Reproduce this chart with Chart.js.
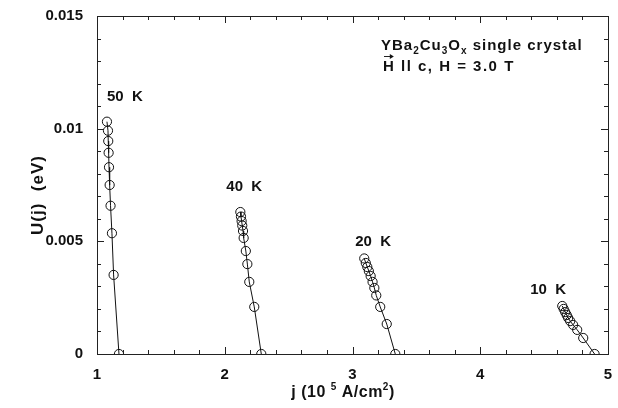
<!DOCTYPE html>
<html><head><meta charset="utf-8">
<script src="https://cdn.jsdelivr.net/npm/chart.js@4.4.1/dist/chart.umd.min.js"></script>
<style>html,body{margin:0;padding:0;background:#fff}#wrap{width:618px;height:408px}</style>
</head><body><div id="wrap"><canvas id="c" width="618" height="408"></canvas></div>
<script>
// Data: current density j (10^5 A/cm^2) and U(j) (eV)
const j50 = [1.078, 1.086, 1.088, 1.091, 1.094, 1.099, 1.106, 1.117, 1.130, 1.172];
const U50 = [0.01031, 0.00991, 0.00945, 0.00893, 0.00829, 0.00750, 0.00658, 0.00536, 0.00351, 0];
const j40 = [2.122, 2.127, 2.132, 2.137, 2.143, 2.148, 2.165, 2.177, 2.192, 2.231, 2.286];
const U40 = [0.00630, 0.00610, 0.00590, 0.00570, 0.00546, 0.00515, 0.00457, 0.00399, 0.00320, 0.00209, 0];
const j20 = [3.092, 3.104, 3.116, 3.128, 3.142, 3.157, 3.171, 3.186, 3.217, 3.268, 3.335];
const U20 = [0.00424, 0.00404, 0.00386, 0.00368, 0.00346, 0.00320, 0.00293, 0.00260, 0.00209, 0.00133, 0];
const j10 = [4.642, 4.653, 4.665, 4.677, 4.688, 4.704, 4.727, 4.759, 4.806, 4.895];
const U10 = [0.00213, 0.00200, 0.00186, 0.00173, 0.00160, 0.00146, 0.00129, 0.00107, 0.00071, 0];
const seriesLabels = ['50  K', '40  K', '20  K', '10  K'];
const xTickLabels = ['1', '2', '3', '4', '5'];
const yTickLabels = ['0', '0.005', '0.01', '0.015'];

const FONT = '"Liberation Sans", Arial, Helvetica, sans-serif';
const toPts = (xs, ys) => xs.map((x, i) => ({x, y: ys[i]}));
const mk = (xs, ys, label) => ({
  label, data: toPts(xs, ys), showLine: true, borderColor: '#111', borderWidth: 1,
  pointRadius: 4.6, pointBorderWidth: 1, pointBackgroundColor: 'rgba(0,0,0,0)', pointBorderColor: '#111', tension: 0
});

const framePlugin = {
  id: 'frame',
  afterDraw(chart) {
    const {ctx, chartArea: a, scales: {x, y}} = chart;
    ctx.save();
    ctx.strokeStyle = '#222'; ctx.lineWidth = 1;
    ctx.strokeRect(a.left + 0.5, a.top + 0.5, a.right - a.left, a.bottom - a.top);
    ctx.beginPath();
    for (let v = 1; v <= 5.0001; v += 0.2) {
      const px = Math.round(x.getPixelForValue(v)) + 0.5;
      const major = Math.abs(v - Math.round(v)) < 1e-6;
      const L = major ? 7 : 4;
      ctx.moveTo(px, a.top); ctx.lineTo(px, a.top + L);
      ctx.moveTo(px, a.bottom); ctx.lineTo(px, a.bottom - L);
    }
    for (let k = 0; k <= 15; k++) {
      const v = k * 0.001;
      const py = Math.round(y.getPixelForValue(v)) + 0.5;
      const L = (k % 5 === 0) ? 7 : 4;
      ctx.moveTo(a.left, py); ctx.lineTo(a.left + L, py);
      ctx.moveTo(a.right, py); ctx.lineTo(a.right - L, py);
    }
    ctx.stroke();

    ctx.fillStyle = '#111';
    ctx.textBaseline = 'middle';
    ctx.textAlign = 'left';
    ctx.font = 'bold 15px ' + FONT;
    ctx.letterSpacing = '0px';
    const lbl = [[j50, U50], [j40, U40], [j20, U20], [j10, U10]];
    const offs = [[0, -25], [-14, -25], [-9, -17], [-32, -16]];
    lbl.forEach((s, i) => {
      const px = x.getPixelForValue(s[0][0]) + offs[i][0];
      const py = y.getPixelForValue(s[1][0]) + offs[i][1];
      ctx.fillText(seriesLabels[i], px, py);
    });

    // sample annotation
    ctx.letterSpacing = '1px';
    let cx = 381; const cy = 46;
    const big = 'bold 15px ' + FONT, small = 'bold 10px ' + FONT;
    const parts = [['YBa', 0], ['2', 1], ['Cu', 0], ['3', 1], ['O', 0], ['x', 1], [' single crystal', 0]];
    parts.forEach(([t, sub]) => {
      ctx.font = sub ? small : big;
      ctx.fillText(t, cx, sub ? cy + 5 : cy);
      cx += ctx.measureText(t).width;
    });
    ctx.font = big;
    ctx.letterSpacing = '1.5px';
    const hx = 383, hy = 67;
    ctx.fillText('H ll c, H = 3.0 T', hx, hy);
    ctx.letterSpacing = '0px';
    const hw = ctx.measureText('H').width;
    ctx.beginPath();
    ctx.moveTo(hx + 1, hy - 10.5); ctx.lineTo(hx + hw - 1, hy - 10.5);
    ctx.stroke();
    ctx.beginPath();
    ctx.moveTo(hx + hw, hy - 10.5); ctx.lineTo(hx + hw - 4, hy - 13); ctx.lineTo(hx + hw - 4, hy - 8); ctx.closePath();
    ctx.fill();

    // x-axis title with superscripts
    ctx.letterSpacing = '0.5px';
    const tparts = [['j (10 ', 0], ['5', 1], [' A/cm', 0], ['2', 1], [')', 0]];
    const ty = 393;
    let tw = 0;
    const tf = sup => sup ? 'bold 10px ' + FONT : 'bold 16px ' + FONT;
    tparts.forEach(([t, sup]) => { ctx.font = tf(sup); tw += ctx.measureText(t).width; });
    let tx = 343 - tw / 2;
    tparts.forEach(([t, sup]) => {
      ctx.font = tf(sup);
      ctx.fillText(t, tx, sup ? ty - 6 : ty);
      tx += ctx.measureText(t).width;
    });

    // y-axis title
    ctx.save();
    ctx.translate(38, 195);
    ctx.rotate(-Math.PI / 2);
    ctx.textAlign = 'center';
    ctx.font = 'bold 17px ' + FONT;
    ctx.letterSpacing = '1px';
    ctx.fillText('U(j)  (eV)', 0, 0);
    ctx.restore();
    ctx.restore();
  }
};

new Chart(document.getElementById('c'), {
  type: 'scatter',
  data: { datasets: [mk(j50, U50, seriesLabels[0]), mk(j40, U40, seriesLabels[1]), mk(j20, U20, seriesLabels[2]), mk(j10, U10, seriesLabels[3])] },
  options: {
    responsive: false, animation: false, devicePixelRatio: 1,
    layout: { padding: { left: 0, right: 10, top: 16, bottom: 0 } },
    plugins: { legend: { display: false }, tooltip: { enabled: false } },
    scales: {
      x: {
        type: 'linear', min: 1, max: 5,
        afterFit: s => { s.height = 54; s.paddingLeft = 0; s.paddingRight = 0; },
        afterBuildTicks: s => { s.ticks = xTickLabels.map(t => ({value: parseFloat(t)})); },
        ticks: { callback: (v, i) => xTickLabels[i], color: '#111', font: { family: FONT, size: 15, weight: 'bold' }, padding: 12, maxRotation: 0 },
        grid: { display: false, drawTicks: false }, border: { display: false }
      },
      y: {
        type: 'linear', min: 0, max: 0.015,
        afterFit: s => { s.width = 97; s.paddingTop = 0; s.paddingBottom = 0; },
        afterBuildTicks: s => { s.ticks = yTickLabels.map(t => ({value: parseFloat(t)})); },
        ticks: { callback: (v, i) => yTickLabels[i], color: '#111', font: { family: FONT, size: 15, weight: 'bold' }, padding: 14 },
        grid: { display: false, drawTicks: false }, border: { display: false }
      }
    }
  },
  plugins: [framePlugin]
});
</script></body></html>
